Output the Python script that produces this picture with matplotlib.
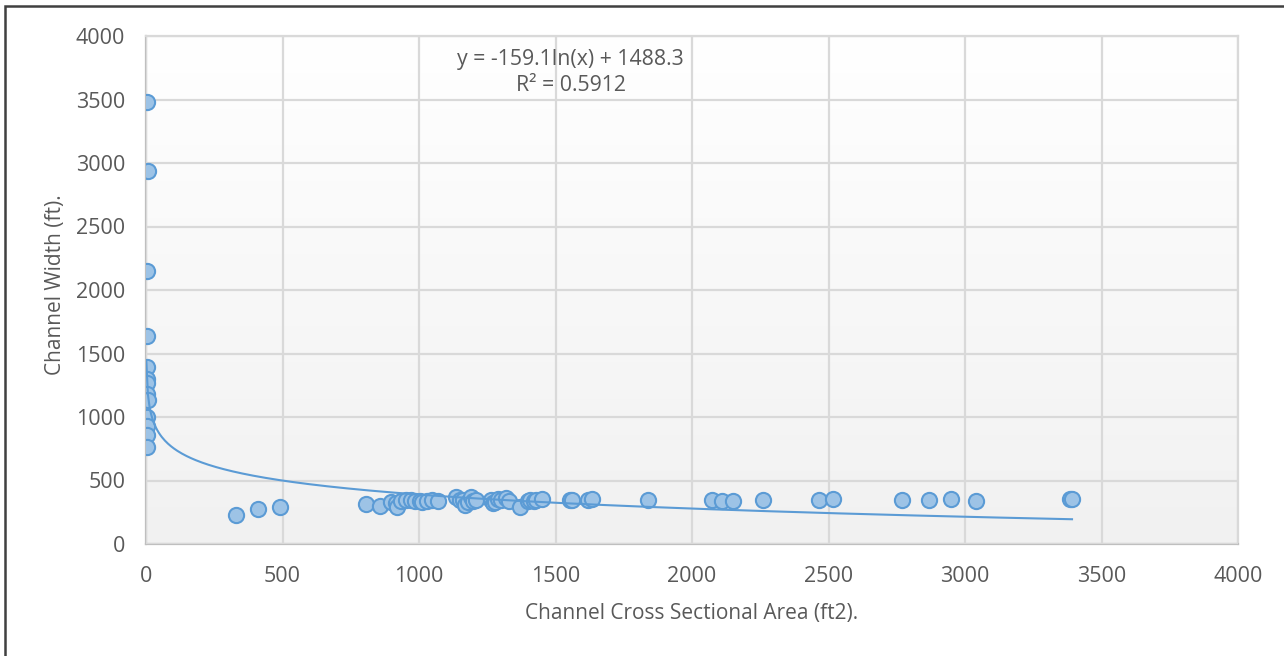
import numpy as np
import matplotlib
matplotlib.use("Agg")
import matplotlib.pyplot as plt
from matplotlib.colors import LinearSegmentedColormap
from matplotlib.patches import Rectangle

# channel cross sectional area (ft2) vs channel width (ft)
area = [4, 7, 3, 2, 3, 5, 2, 4, 6, 3, 2, 5, 3,
        329, 409, 490,
        807, 856, 899, 917, 920, 935, 954, 972, 984, 1002, 1010, 1030, 1049, 1070,
        1137, 1150, 1161, 1167, 1180, 1192, 1198, 1210,
        1265, 1271, 1280, 1290, 1300, 1320, 1330, 1369, 1400, 1406, 1420, 1430, 1449,
        1553, 1560, 1620, 1632, 1840, 2072, 2109, 2152, 2259,
        2467, 2518, 2768, 2869, 2948, 3039, 3384, 3392]
width = [3480, 2940, 2150, 1640, 1390, 1300, 1270, 1180, 1130, 1000, 930, 860, 760,
         226, 274, 295,
         316, 303, 329, 322, 295, 335, 343, 348, 335, 335, 330, 335, 348, 340,
         374, 345, 348, 308, 330, 374, 335, 348,
         348, 322, 330, 353, 345, 361, 340, 295, 340, 348, 335, 348, 353,
         348, 345, 348, 353, 348, 348, 335, 335, 348,
         348, 356, 348, 348, 353, 335, 353, 353]

# logarithmic trendline coefficients
trend_a = -159.1
trend_b = 1488.3
r_squared = 0.5912

TEXT = "#595959"
GRID = "#D9D9D9"
EDGE = "#5B9BD5"
FILL = "#9DC3E6"

plt.rcParams["font.family"] = ["Open Sans", "DejaVu Sans"]

fig = plt.figure(figsize=(12.84, 6.56), dpi=100)
ax = fig.add_axes([146 / 1284, 1 - 544 / 656, (1238 - 146) / 1284, (544 - 36) / 656])

# plot area fill: white at top fading to light gray at the bottom
shade = LinearSegmentedColormap.from_list("shade", ["#F1F1F1", "#FFFFFF"])
ax.imshow(np.linspace(0, 1, 256).reshape(-1, 1), cmap=shade, origin="lower",
          extent=[0, 4000, 0, 4000], aspect="auto", zorder=0)

ax.set_xlim(0, 4000)
ax.set_ylim(0, 4000)
ax.set_xticks(np.arange(0, 4001, 500))
ax.set_yticks(np.arange(0, 4001, 500))
ax.grid(True, color=GRID, linewidth=1.6, zorder=1)
ax.set_axisbelow(False)
for side in ["top", "right"]:
    ax.spines[side].set_color(GRID)
    ax.spines[side].set_linewidth(1.6)
for side in ["left", "bottom"]:
    ax.spines[side].set_color("#BFBFBF")
    ax.spines[side].set_linewidth(1.6)
ax.tick_params(length=0, labelsize=15.5, labelcolor=TEXT)
ax.tick_params(axis="y", pad=15)
ax.tick_params(axis="x", pad=16)

ax.scatter(area, width, s=120, facecolor=FILL, edgecolor=EDGE, linewidths=1.5, zorder=3)

xs = np.linspace(1.4, max(area), 600)
ax.plot(xs, trend_a * np.log(xs) + trend_b, color=EDGE, linewidth=1.5, zorder=4)

ax.text(1555, 3715, f"y = {trend_a}ln(x) + {trend_b}\nR² = {r_squared}",
        ha="center", va="center", fontsize=15.3, color=TEXT, linespacing=1.3, zorder=5)

ax.set_xlabel("Channel Cross Sectional Area (ft2).", fontsize=15, color=TEXT, labelpad=11)
ax.set_ylabel("Channel Width (ft).", fontsize=15, color=TEXT)
ax.yaxis.set_label_coords(-0.073, 0.51)

# outer chart frame
fig.patches.append(Rectangle((5 / 1284, -0.1), 1.2, 1 - 6 / 656 + 0.1, transform=fig.transFigure,
                             fill=False, edgecolor="#404040", linewidth=1.8))

fig.savefig("out.png", dpi=100)
